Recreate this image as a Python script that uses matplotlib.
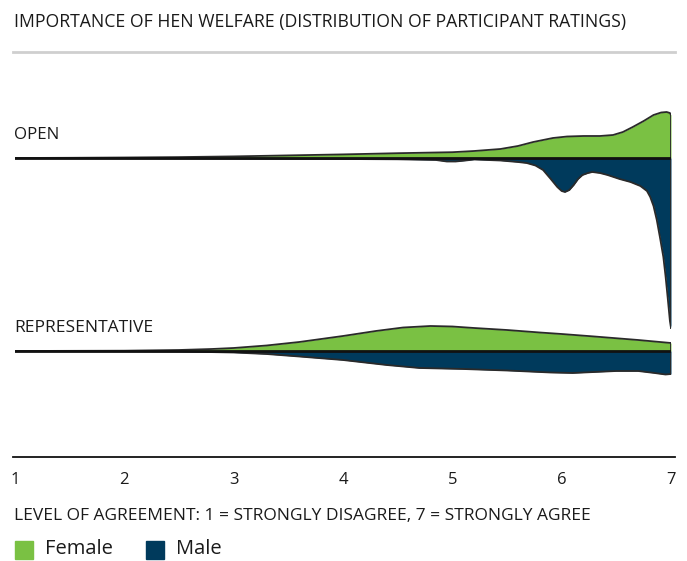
"""
Importance of hen welfare: split density (female above, male below) per sample.
"""
import matplotlib
matplotlib.use("Agg")
import matplotlib.pyplot as plt
from matplotlib.patches import Rectangle
from matplotlib.lines import Line2D

GREEN = '#7ac143'
NAVY = '#003a5c'
EDGE = '#2a2a2a'
TEXT = '#1a1a1a'
FONT = 'Open Sans'

# ---- data (density heights, arbitrary units) ----
open_female_x = [1.0, 1.5, 2.0, 2.5, 3.0, 3.5, 4.0, 4.5, 5.0, 5.2, 5.44, 5.6, 5.74,
                 5.92, 6.05, 6.2, 6.35, 6.47, 6.56, 6.65, 6.75, 6.84, 6.91, 6.96, 6.99, 7.0]
open_female_y = [0.0, 0.2, 0.5, 0.9, 1.6, 2.6, 3.6, 4.8, 5.8, 7.0, 9.0, 12.0, 16.0,
                 20.0, 21.5, 22.0, 22.0, 23.0, 26.0, 31.0, 37.0, 43.0, 45.5, 46.0, 45.0, 43.0]

open_male_x = [1.0, 2.0, 3.0, 4.0, 4.5, 4.85, 4.95, 5.03, 5.12, 5.2, 5.44, 5.6, 5.68,
               5.76, 5.83, 5.9, 5.96, 6.0, 6.03, 6.07, 6.11, 6.15, 6.19, 6.24, 6.28, 6.35,
               6.42, 6.53, 6.63, 6.72, 6.78, 6.81, 6.84, 6.87, 6.9, 6.93, 6.95, 6.97,
               6.99, 7.0]
open_male_y = [0.0, 0.3, 0.6, 1.0, 1.3, 2.0, 3.5, 3.5, 2.5, 1.5, 2.5, 4.0, 5.0,
               7.5, 12.0, 21.0, 29.0, 33.0, 34.0, 32.0, 27.0, 21.0, 17.0, 15.0, 14.0, 15.0,
               17.0, 21.0, 24.0, 28.0, 33.0, 39.0, 48.0, 62.0, 80.0, 99.0, 118.0, 140.0,
               163.0, 170.0]

rep_female_x = [1.0, 2.0, 2.5, 2.8, 3.0, 3.3, 3.6, 4.0, 4.3, 4.55, 4.8, 5.0, 5.2,
                5.5, 5.8, 6.0, 6.3, 6.7, 7.0]
rep_female_y = [0.0, 0.3, 1.0, 2.0, 3.0, 5.5, 9.0, 15.0, 20.0, 23.5, 25.0, 24.5, 23.0,
                21.0, 18.5, 17.0, 14.5, 11.0, 8.0]

rep_male_x = [1.0, 2.0, 2.5, 3.0, 3.3, 3.6, 4.0, 4.4, 4.7, 5.1, 5.5, 5.9, 6.1,
              6.3, 6.5, 6.7, 6.85, 6.95, 7.0]
rep_male_y = [0.0, 0.2, 0.5, 1.5, 3.0, 5.5, 9.0, 14.0, 17.0, 18.0, 19.5, 21.5, 22.0,
              21.0, 20.0, 20.0, 22.0, 23.5, 23.0]

groups = ['OPEN', 'REPRESENTATIVE']
tick_values = [1, 2, 3, 4, 5, 6, 7]
series_labels = ['Female', 'Male']

# ---- layout ----
W, H = 687, 561
fig = plt.figure(figsize=(W / 100, H / 100), dpi=100)
fig.patch.set_facecolor('white')

x0, x1 = 15, 671          # pixel positions of rating 1 and 7
ytop, ybot = 52, 457      # top grey rule / bottom axis line
ax = fig.add_axes([x0 / W, 1 - ybot / H, (x1 - x0) / W, (ybot - ytop) / H])
ax.set_xlim(1, 7)
ax.set_ylim(-(ybot - 158), 158 - ytop)
ax.axis('off')

base = {'OPEN': 0, 'REPRESENTATIVE': -(351 - 158)}
data = {
    'OPEN': (open_female_x, open_female_y, open_male_x, open_male_y),
    'REPRESENTATIVE': (rep_female_x, rep_female_y, rep_male_x, rep_male_y),
}

for g in groups:
    b = base[g]
    fx, fy, mx, my = data[g]
    top = [b + v for v in fy]
    bot = [b - v for v in my]
    ax.fill_between(fx, b, top, color=GREEN, lw=0, zorder=2)
    ax.fill_between(mx, b, bot, color=NAVY, lw=0, zorder=2)
    ax.plot(fx, top, color=EDGE, lw=1.3, zorder=3, solid_capstyle='round')
    ax.plot(mx, bot, color=EDGE, lw=1.3, zorder=3, solid_capstyle='round')
    ax.plot([7, 7], [bot[-1], top[-1]], color=EDGE, lw=1.3, zorder=3)
    ax.plot([1, 7], [b, b], color='#111111', lw=2.0, zorder=4)

# rules
fig.add_artist(Line2D([13 / W, 675 / W], [1 - ytop / H] * 2, color='#cfcfcf', lw=2.0))
fig.add_artist(Line2D([13 / W, 675 / W], [1 - ybot / H] * 2, color='#111111', lw=1.3))

# texts
def ftxt(px, py, s, fs, ha='left', color=TEXT):
    fig.text(px / W, 1 - py / H, s, fontsize=fs, ha=ha, va='center',
             color=color, family=FONT)

ftxt(14, 22, 'IMPORTANCE OF HEN WELFARE (DISTRIBUTION OF PARTICIPANT RATINGS)', 12.7)
ftxt(14, 135, 'OPEN', 12.2)
ftxt(14, 328, 'REPRESENTATIVE', 12.5)
for t in tick_values:
    ftxt(x0 + (t - 1) * (x1 - x0) / 6, 480, str(t), 12, ha='center')
ftxt(14, 516, 'LEVEL OF AGREEMENT: 1 = STRONGLY DISAGREE, 7 = STRONGLY AGREE', 12.5)

# legend
for (px, lab, col, tx) in [(15, series_labels[0], GREEN, 45), (146, series_labels[1], NAVY, 176)]:
    fig.add_artist(Rectangle((px / W, 1 - 559 / H), 18 / W, 18 / H, color=col,
                             transform=fig.transFigure))
    ftxt(tx, 549, lab, 14.5)

fig.savefig('out.png', dpi=100, facecolor='white')
